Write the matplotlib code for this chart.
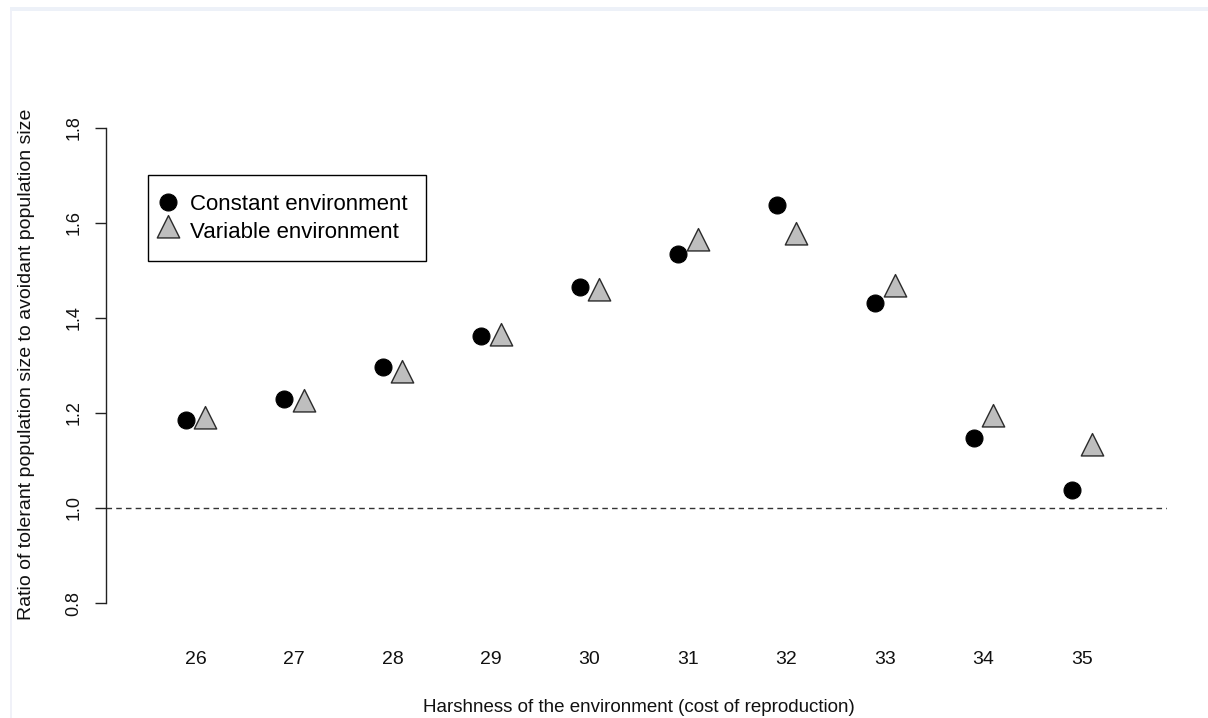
import matplotlib
matplotlib.use("Agg")
import matplotlib.pyplot as plt
from matplotlib.path import Path
from matplotlib.lines import Line2D
from matplotlib.patches import Rectangle
from matplotlib import font_manager

# Data: ratio of tolerant to avoidant population size by cost of reproduction
harshness = [26, 27, 28, 29, 30, 31, 32, 33, 34, 35]
constant_env = [1.185, 1.229, 1.296, 1.362, 1.466, 1.535, 1.638, 1.432, 1.147, 1.038]
variable_env = [1.183, 1.219, 1.279, 1.357, 1.453, 1.558, 1.571, 1.460, 1.187, 1.126]
y_ticks = [0.8, 1.0, 1.2, 1.4, 1.6, 1.8]
y_tick_labels = ["0.8", "1.0", "1.2", "1.4", "1.6", "1.8"]
legend_labels = ["Constant environment", "Variable environment"]
x_label = "Harshness of the environment (cost of reproduction)"
y_label = "Ratio of tolerant population size to avoidant population size"

available = {f.name for f in font_manager.fontManager.ttflist}
regular = "Liberation Sans" if "Liberation Sans" in available else "DejaVu Sans"

W, H = 1208, 718
DPI = 100
fig = plt.figure(figsize=(W / DPI, H / DPI), dpi=DPI)
fig.patch.set_facecolor("white")

# Thin window-frame strip along the top and left edge
fig.patches.append(Rectangle((10 / W, 1 - 11 / H), 1, 4 / H, transform=fig.transFigure,
                             facecolor="#edf1f8", edgecolor="none"))
fig.patches.append(Rectangle((10 / W, 0), 1.5 / W, 1 - 11 / H, transform=fig.transFigure,
                             facecolor="#f0f1f8", edgecolor="none"))

# Plot region in pixels
left_px, right_px = 106, 1167
top_px, bottom_px = 109, 622
ax = fig.add_axes([left_px / W, 1 - bottom_px / H, (right_px - left_px) / W, (bottom_px - top_px) / H])
ax.set_facecolor("none")

px_per_unit_x = 98.5
x0_px = 195.5
ax.set_xlim(26 + (left_px - x0_px) / px_per_unit_x, 26 + (right_px - x0_px) / px_per_unit_x)
px_per_unit_y = 475.0
y1_px = 508
ax.set_ylim(1 + (y1_px - bottom_px) / px_per_unit_y, 1 + (y1_px - top_px) / px_per_unit_y)

# Triangle with its centroid on the data point
tri = Path([(0, 0.667), (0.5, -0.333), (-0.5, -0.333), (0, 0.667)],
           [Path.MOVETO, Path.LINETO, Path.LINETO, Path.CLOSEPOLY])

offset = 0.1
ax.axhline(1.0, color="#333333", lw=1.0, ls=(0, (4, 3)), zorder=1)
ax.plot([x - offset for x in harshness], constant_env, ls="none", marker="o",
        ms=12.2, mfc="black", mec="black", mew=0.8, zorder=3)
ax.plot([x + offset for x in harshness], variable_env, ls="none", marker=tri,
        ms=21.5, mfc="#bebebe", mec="#2a2a2a", mew=1.0, zorder=3)

# Axes styling: only a left axis spanning the tick range
for side in ("top", "right", "bottom"):
    ax.spines[side].set_visible(False)
ax.spines["left"].set_bounds(0.8, 1.8)
ax.spines["left"].set_color("#222222")
ax.spines["left"].set_linewidth(1.0)
ax.set_yticks(y_ticks)
ax.set_yticklabels(y_tick_labels, rotation=90, va="center", fontsize=13,
                   family=regular, color="#111111")
ax.tick_params(axis="y", length=8, width=1.0, color="#222222", pad=9)
ax.set_xticks(harshness)
ax.set_xticklabels([str(h) for h in harshness], fontsize=14, family=regular, color="#111111")
ax.tick_params(axis="x", length=0, pad=21)

fig.text(639 / W, 1 - 707 / H, x_label, ha="center", va="center", fontsize=13.5,
         family=regular, color="#111111")
fig.text(27 / W, 1 - 364 / H, y_label, ha="center", va="center", rotation=90,
         fontsize=14, family=regular, color="#111111")

handles = [
    Line2D([], [], ls="none", marker="o", ms=12.2, mfc="black", mec="black", mew=0.8),
    Line2D([], [], ls="none", marker=tri, ms=21.5, mfc="#bebebe", mec="#2a2a2a", mew=1.0),
]
leg = fig.legend(handles, legend_labels, loc="upper left",
                 bbox_to_anchor=(148 / W, 1 - 175 / H), bbox_transform=fig.transFigure,
                 borderaxespad=0, fancybox=False, frameon=True, framealpha=1,
                 edgecolor="black", prop={"family": regular, "size": 16},
                 handlelength=0.1, handletextpad=0.92,
                 labelspacing=0.3, borderpad=0.85)
leg.get_frame().set_linewidth(1.0)

fig.savefig("out.png", dpi=DPI, facecolor="white")
